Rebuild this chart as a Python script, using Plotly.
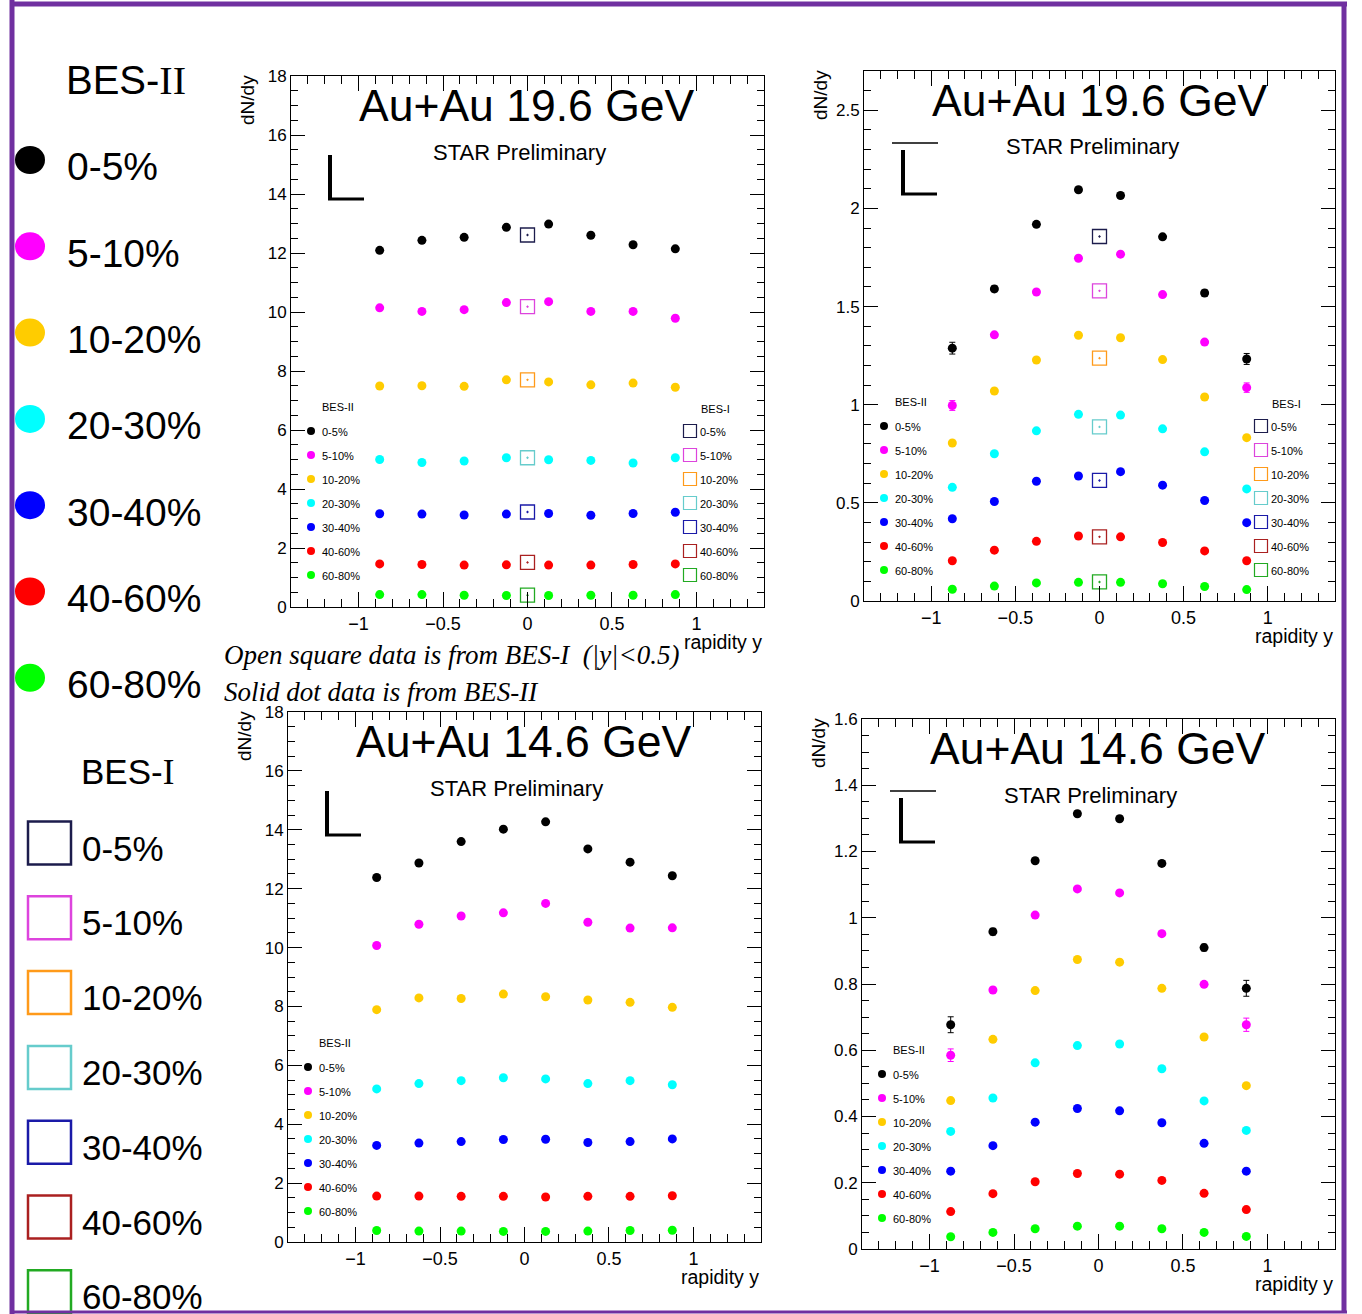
import plotly.graph_objects as go

W, H = 1362, 1314

# ---------------- data ----------------
CENTRALITIES = ["0-5%", "5-10%", "10-20%", "20-30%", "30-40%", "40-60%", "60-80%"]
RAPIDITY = [-0.875, -0.625, -0.375, -0.125, 0.125, 0.375, 0.625, 0.875]
BES1_RAPIDITY = [0.0]

# Au+Au 19.6 GeV, Lambda (BES-II), rows = centralities
LAMBDA_196 = [
    [12.09, 12.43, 12.53, 12.87, 12.98, 12.60, 12.28, 12.14],
    [10.14, 10.02, 10.08, 10.32, 10.35, 10.02, 10.02, 9.79],
    [7.49, 7.50, 7.48, 7.70, 7.63, 7.53, 7.59, 7.45],
    [5.00, 4.90, 4.95, 5.06, 4.99, 4.97, 4.88, 5.06],
    [3.16, 3.15, 3.12, 3.15, 3.17, 3.11, 3.17, 3.21],
    [1.46, 1.44, 1.42, 1.43, 1.42, 1.42, 1.44, 1.46],
    [0.42, 0.42, 0.40, 0.39, 0.39, 0.40, 0.40, 0.42],
]
LAMBDA_196_BES1 = [12.61, 10.18, 7.70, 5.06, 3.22, 1.51, 0.40]

# Au+Au 19.6 GeV, anti-Lambda (BES-II)
ALAMBDA_196 = [
    [1.288, 1.590, 1.919, 2.095, 2.066, 1.855, 1.569, 1.233],
    [0.996, 1.356, 1.574, 1.746, 1.767, 1.561, 1.319, 1.087],
    [0.805, 1.070, 1.228, 1.354, 1.341, 1.230, 1.039, 0.832],
    [0.579, 0.750, 0.867, 0.951, 0.947, 0.877, 0.760, 0.571],
    [0.419, 0.507, 0.610, 0.637, 0.659, 0.590, 0.512, 0.399],
    [0.205, 0.259, 0.304, 0.331, 0.327, 0.298, 0.255, 0.205],
    [0.060, 0.076, 0.092, 0.095, 0.095, 0.088, 0.074, 0.058],
]
ALAMBDA_196_BES1 = [1.857, 1.580, 1.237, 0.887, 0.614, 0.327, 0.097]
ALAMBDA_196_ERR_0_5 = [0.030, 0.015, 0.012, 0.012, 0.012, 0.012, 0.015, 0.028]
ALAMBDA_196_ERR_5_10 = [0.025, 0.012, 0.010, 0.010, 0.010, 0.010, 0.012, 0.024]

# Au+Au 14.6 GeV, Lambda (BES-II)
LAMBDA_146 = [
    [12.38, 12.87, 13.60, 14.02, 14.27, 13.35, 12.90, 12.44],
    [10.07, 10.79, 11.07, 11.18, 11.50, 10.86, 10.66, 10.67],
    [7.89, 8.29, 8.27, 8.42, 8.33, 8.22, 8.14, 7.97],
    [5.20, 5.38, 5.48, 5.58, 5.54, 5.38, 5.48, 5.34],
    [3.28, 3.36, 3.41, 3.48, 3.49, 3.38, 3.41, 3.50],
    [1.56, 1.56, 1.55, 1.55, 1.53, 1.55, 1.55, 1.57],
    [0.39, 0.37, 0.37, 0.36, 0.36, 0.37, 0.39, 0.40],
]

# Au+Au 14.6 GeV, anti-Lambda (BES-II)
ALAMBDA_146 = [
    [0.677, 0.958, 1.172, 1.314, 1.299, 1.164, 0.910, 0.787],
    [0.585, 0.782, 1.008, 1.087, 1.075, 0.952, 0.799, 0.677],
    [0.448, 0.633, 0.780, 0.874, 0.866, 0.787, 0.640, 0.493],
    [0.355, 0.456, 0.562, 0.614, 0.619, 0.544, 0.447, 0.358],
    [0.235, 0.312, 0.383, 0.424, 0.417, 0.381, 0.319, 0.235],
    [0.113, 0.167, 0.203, 0.228, 0.226, 0.207, 0.168, 0.119],
    [0.037, 0.050, 0.061, 0.069, 0.069, 0.061, 0.050, 0.038],
]
ALAMBDA_146_ERR_0_5 = [0.024, 0.010, 0.008, 0.008, 0.008, 0.008, 0.010, 0.024]
ALAMBDA_146_ERR_5_10 = [0.019, 0.008, 0.007, 0.007, 0.007, 0.007, 0.008, 0.020]

BES2_COLORS = ["#000000", "#ff00ff", "#ffcc00", "#00ffff", "#0000ff", "#ff0000", "#00ff00"]
BES1_COLORS = ["#1c1c4c", "#dd44dd", "#ff9a1a", "#66cccc", "#1a1aa8", "#aa2020", "#22aa22"]

TITLES = ["Au+Au 19.6 GeV", "Au+Au 19.6 GeV", "Au+Au 14.6 GeV", "Au+Au 14.6 GeV"]

# ---------------- helpers ----------------
def px(x):
    return x / W


def py(y):
    return 1 - y / H


SANS = "Liberation Sans"
SERIF = "Liberation Serif"

# panel boxes in pixels: left, top, right, bottom
PANELS = [
    dict(box=(291, 76, 764, 607), yr=[0, 18], dtick=2, minor=0.5, data=LAMBDA_196,
         bes1=LAMBDA_196_BES1, err=None, bar=False),
    dict(box=(864, 71, 1335, 601), yr=[0, 2.7], dtick=0.5, minor=0.1, data=ALAMBDA_196,
         bes1=ALAMBDA_196_BES1, err=(ALAMBDA_196_ERR_0_5, ALAMBDA_196_ERR_5_10), bar=True),
    dict(box=(288, 712, 761, 1242), yr=[0, 18], dtick=2, minor=0.5, data=LAMBDA_146,
         bes1=None, err=None, bar=False),
    dict(box=(862, 719, 1335, 1249), yr=[0, 1.6], dtick=0.2, minor=0.05, data=ALAMBDA_146,
         bes1=None, err=(ALAMBDA_146_ERR_0_5, ALAMBDA_146_ERR_5_10), bar=True),
]

fig = go.Figure()
annotations = []
shapes = []
layout_axes = {}

for i, p in enumerate(PANELS):
    n = "" if i == 0 else str(i + 1)
    L, T, R, B = p["box"]
    xa = dict(
        domain=[px(L), px(R)], range=[-1.4, 1.4], dtick=0.5, tick0=0,
        ticks="inside", ticklen=15, tickwidth=1, tickcolor="black",
        showline=True, linecolor="black", linewidth=1, mirror="allticks",
        showgrid=False, zeroline=False, anchor="y" + n, automargin=False,
        tickfont=dict(family=SANS, size=18, color="black"),
        minor=dict(dtick=0.1, ticks="inside", ticklen=8, tickcolor="black", showgrid=False),
    )
    ya = dict(
        domain=[py(B), py(T)], range=p["yr"], dtick=p["dtick"], tick0=0,
        ticks="inside", ticklen=14, tickwidth=1, tickcolor="black",
        showline=True, linecolor="black", linewidth=1, mirror="allticks",
        showgrid=False, zeroline=False, anchor="x" + n, automargin=False,
        tickfont=dict(family=SANS, size=17, color="black"),
        minor=dict(dtick=p["minor"], ticks="inside", ticklen=7, tickcolor="black", showgrid=False),
    )
    layout_axes["xaxis" + n] = xa
    layout_axes["yaxis" + n] = ya

    # BES-II solid dots
    for k, vals in enumerate(p["data"]):
        err = None
        if p["err"] is not None and k < 2:
            err = dict(type="data", array=p["err"][k], color=BES2_COLORS[k], thickness=1, width=3)
        fig.add_trace(go.Scatter(
            x=RAPIDITY, y=vals, mode="markers", xaxis="x" + n, yaxis="y" + n,
            marker=dict(symbol="circle", size=9, color=BES2_COLORS[k]),
            error_y=err, showlegend=False, name="BES-II " + CENTRALITIES[k],
        ))
    # BES-I open squares
    if p["bes1"] is not None:
        for k, v in enumerate(p["bes1"]):
            fig.add_trace(go.Scatter(
                x=BES1_RAPIDITY, y=[v], mode="markers", xaxis="x" + n, yaxis="y" + n,
                marker=dict(symbol="square-open-dot", size=14, color=BES1_COLORS[k],
                            line=dict(width=1.3, color=BES1_COLORS[k])),
                showlegend=False, name="BES-I " + CENTRALITIES[k],
            ))

    # texts
    annotations.append(dict(text=TITLES[i], x=px(L + 236), y=py(T + 29), xref="paper", yref="paper",
                            xanchor="center", yanchor="middle", showarrow=False,
                            font=dict(family=SANS, size=44.5, color="black")))
    annotations.append(dict(text="STAR Preliminary", x=px(L + 228), y=py(T + 76), xref="paper",
                            yref="paper", xanchor="center", yanchor="middle", showarrow=False,
                            font=dict(family=SANS, size=22, color="black")))
    annotations.append(dict(text="dN/dy", x=px(L - 44), y=py(T - 3), xref="paper", yref="paper",
                            xanchor="center", yanchor="top", textangle=-90, showarrow=False,
                            font=dict(family=SANS, size=19, color="black")))
    annotations.append(dict(text="rapidity y", x=px(R), y=py(B + 35), xref="paper", yref="paper",
                            xanchor="right", yanchor="middle", showarrow=False,
                            font=dict(family=SANS, size=19.5, color="black")))

    # Lambda / anti-Lambda symbol
    shapes.append(dict(type="line", xref="paper", yref="paper", x0=px(L + 39), x1=px(L + 39),
                       y0=py(T + 79), y1=py(T + 124), line=dict(color="black", width=4)))
    shapes.append(dict(type="line", xref="paper", yref="paper", x0=px(L + 37), x1=px(L + 73),
                       y0=py(T + 123), y1=py(T + 123), line=dict(color="black", width=3)))
    if p["bar"]:
        shapes.append(dict(type="line", xref="paper", yref="paper", x0=px(L + 28), x1=px(L + 74),
                           y0=py(T + 72), y1=py(T + 72), line=dict(color="black", width=1.5)))

    # in-panel BES-II legend
    annotations.append(dict(text="BES-II", x=px(L + 47), y=py(T + 331), xref="paper", yref="paper",
                            xanchor="center", yanchor="middle", showarrow=False,
                            font=dict(family=SANS, size=11, color="black")))
    for k, c in enumerate(CENTRALITIES):
        cx, cy = L + 20, T + 355 + 24 * k
        shapes.append(dict(type="circle", xref="paper", yref="paper", x0=px(cx - 4), x1=px(cx + 4),
                           y0=py(cy + 4), y1=py(cy - 4), fillcolor=BES2_COLORS[k],
                           line=dict(color=BES2_COLORS[k], width=0)))
        annotations.append(dict(text=c, x=px(cx + 9), y=py(cy + 1), xref="paper", yref="paper",
                                xanchor="left", yanchor="middle", showarrow=False,
                                font=dict(family=SANS, size=11, color="black")))
    # in-panel BES-I legend
    if p["bes1"] is not None:
        annotations.append(dict(text="BES-I", x=px(R - 49), y=py(T + 333), xref="paper",
                                yref="paper", xanchor="center", yanchor="middle", showarrow=False,
                                font=dict(family=SANS, size=11, color="black")))
        for k, c in enumerate(CENTRALITIES):
            cx, cy = R - 74, T + 355 + 24 * k
            shapes.append(dict(type="rect", xref="paper", yref="paper", x0=px(cx - 6.5),
                               x1=px(cx + 6.5), y0=py(cy + 6.5), y1=py(cy - 6.5),
                               line=dict(color=BES1_COLORS[k], width=1.2)))
            annotations.append(dict(text=c, x=px(cx + 8), y=py(cy + 1), xref="paper", yref="paper",
                                    xanchor="left", yanchor="middle", showarrow=False,
                                    font=dict(family=SANS, size=11, color="black")))

# ---------------- big legend on the left ----------------
annotations.append(dict(text='BES-<span style="font-family:Liberation Serif">II</span>',
                        x=px(126), y=py(80), xref="paper", yref="paper", xanchor="center",
                        yanchor="middle", showarrow=False,
                        font=dict(family=SANS, size=40, color="black")))
for k, c in enumerate(CENTRALITIES):
    cy = 160 + 86.3 * k
    shapes.append(dict(type="circle", xref="paper", yref="paper", x0=px(15), x1=px(45),
                       y0=py(cy + 14), y1=py(cy - 14), fillcolor=BES2_COLORS[k],
                       line=dict(color=BES2_COLORS[k], width=0)))
    annotations.append(dict(text=c, x=px(65), y=py(cy + 7), xref="paper", yref="paper",
                            xanchor="left", yanchor="middle", showarrow=False,
                            font=dict(family=SANS, size=39, color="black")))

annotations.append(dict(text='BES-<span style="font-family:Liberation Serif">I</span>',
                        x=px(127), y=py(772), xref="paper", yref="paper", xanchor="center",
                        yanchor="middle", showarrow=False,
                        font=dict(family=SANS, size=35, color="black")))
for k, c in enumerate(CENTRALITIES):
    cy = 843 + 74.8 * k
    shapes.append(dict(type="rect", xref="paper", yref="paper", x0=px(28), x1=px(71),
                       y0=py(cy + 21.5), y1=py(cy - 21.5),
                       line=dict(color=BES1_COLORS[k], width=2.5)))
    annotations.append(dict(text=c, x=px(80), y=py(cy + 5), xref="paper", yref="paper",
                            xanchor="left", yanchor="middle", showarrow=False,
                            font=dict(family=SANS, size=35, color="black")))

# ---------------- notes ----------------
annotations.append(dict(text="Open square data is from BES-I  (|y|<0.5)", x=px(222), y=py(655),
                        xref="paper", yref="paper", xanchor="left", yanchor="middle",
                        showarrow=False, font=dict(family=SERIF, size=27, color="black",
                                                   style="italic")))
annotations.append(dict(text="Solid dot data is from BES-II", x=px(222), y=py(692),
                        xref="paper", yref="paper", xanchor="left", yanchor="middle",
                        showarrow=False, font=dict(family=SERIF, size=27, color="black",
                                                   style="italic")))

# ---------------- purple frame ----------------
PURPLE = "#7030a0"
shapes.append(dict(type="line", xref="paper", yref="paper", x0=px(12), x1=px(12), y0=py(0),
                   y1=py(H), line=dict(color=PURPLE, width=5)))
shapes.append(dict(type="line", xref="paper", yref="paper", x0=px(10), x1=px(1347), y0=py(4),
                   y1=py(4), line=dict(color=PURPLE, width=5)))
shapes.append(dict(type="line", xref="paper", yref="paper", x0=px(1344), x1=px(1344), y0=py(2),
                   y1=py(1312), line=dict(color=PURPLE, width=5)))
shapes.append(dict(type="line", xref="paper", yref="paper", x0=px(10), x1=px(1347),
                   y0=py(1312), y1=py(1312), line=dict(color=PURPLE, width=3)))

fig.update_layout(
    width=W, height=H, margin=dict(l=0, r=0, t=0, b=0, autoexpand=False),
    paper_bgcolor="white", plot_bgcolor="white", showlegend=False,
    annotations=annotations, shapes=shapes, **layout_axes,
)

fig.write_html("out.html", config={"displayModeBar": False},
               post_script="document.body.style.margin='0';")
